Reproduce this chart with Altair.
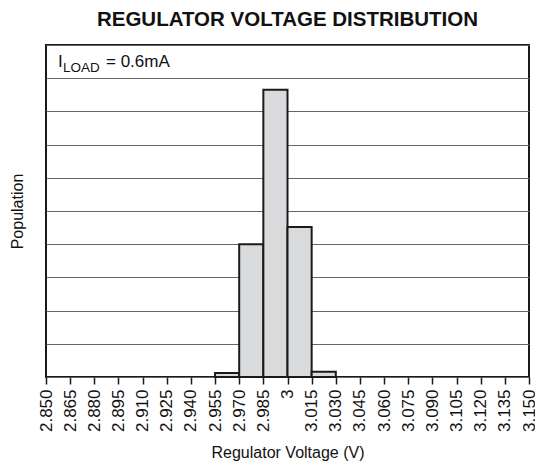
import altair as alt
import pandas as pd

bin_start = [2.955, 2.970, 2.985, 3.000, 3.015]
bin_end = [2.970, 2.985, 3.000, 3.015, 3.030]
population = [0.12, 4.0, 8.65, 4.52, 0.16]
tick_values = [2.850, 2.865, 2.880, 2.895, 2.910, 2.925, 2.940, 2.955, 2.970, 2.985,
               3.000, 3.015, 3.030, 3.045, 3.060, 3.075, 3.090, 3.105, 3.120, 3.135, 3.150]

df = pd.DataFrame({"start": bin_start, "end": bin_end, "pop": population})

FONT = "Liberation Sans"

bars = alt.Chart(df).mark_bar(fill="#d9dadc", stroke="#1a1a1a", strokeWidth=2).encode(
    x=alt.X("start:Q",
            scale=alt.Scale(domain=[2.850, 3.150], nice=False, zero=False),
            axis=alt.Axis(values=tick_values, labelAngle=270,
                          labelExpr="datum.value == 3 ? '3' : format(datum.value, '.3f')",
                          title="Regulator Voltage (V)", grid=False, domain=False,
                          tickColor="#1a1a1a", tickSize=7, tickWidth=1.5,
                          labelFontSize=17, labelColor="#111", labelPadding=5,
                          labelOverlap=False, labelBound=False,
                          titleFontSize=16, titleFontWeight="normal", titleColor="#111",
                          titlePadding=13, labelFont=FONT, titleFont=FONT)),
    x2="end:Q",
    y=alt.Y("pop:Q",
            scale=alt.Scale(domain=[0, 10], nice=False),
            axis=alt.Axis(values=list(range(0, 11)), labels=False, ticks=False, domain=False,
                          grid=True, gridColor="#666", gridWidth=1,
                          title="Population", titleFontSize=16, titleFontWeight="normal",
                          titleColor="#111", titlePadding=21, titleFont=FONT)),
    y2=alt.datum(0),
)

ann_df = pd.DataFrame({"t": ["I"]})
t1 = alt.Chart(ann_df).mark_text(align="left", baseline="alphabetic", fontSize=17, font=FONT, color="#111").encode(
    x=alt.value(12), y=alt.value(22), text=alt.value("I"))
t2 = alt.Chart(ann_df).mark_text(align="left", baseline="alphabetic", fontSize=13.5, font=FONT, color="#111").encode(
    x=alt.value(17), y=alt.value(27), text=alt.value("LOAD"))
t3 = alt.Chart(ann_df).mark_text(align="left", baseline="alphabetic", fontSize=17, font=FONT, color="#111").encode(
    x=alt.value(60), y=alt.value(22), text=alt.value("= 0.6mA"))

chart = alt.layer(bars, t1, t2, t3).properties(
    width=483, height=332,
    title=alt.TitleParams("REGULATOR VOLTAGE DISTRIBUTION", fontSize=20.5, fontWeight="bold",
                          font=FONT, color="#111", anchor="middle", offset=15),
    autosize=alt.AutoSizeParams(type="none"),
    padding={"left": 38, "top": 37, "right": 6, "bottom": 86},
).configure_view(stroke="#1a1a1a", strokeWidth=2)

chart.save("out.html", embed_options={"renderer": "svg", "actions": False})
